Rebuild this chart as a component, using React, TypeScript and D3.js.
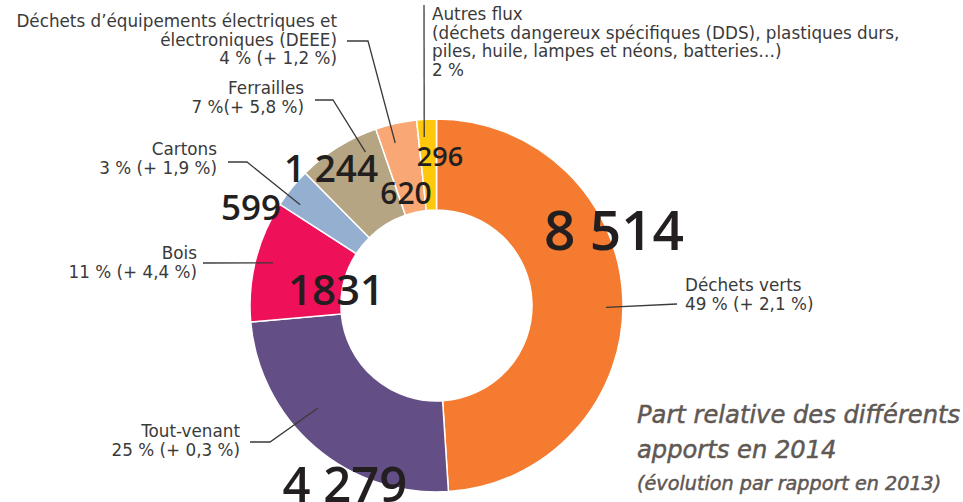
import React from "react";
import * as d3 from "d3";

const categories = ["Déchets verts", "Tout-venant", "Bois", "Cartons", "Ferrailles", "DEEE", "Autres flux"];
const values = [8514, 4279, 1831, 599, 1244, 620, 296];
const valueLabels = ["8 514", "4 279", "1831", "599", "1 244", "620", "296"];
const colors = ["#F47B30", "#634F85", "#EE1159", "#95AFD0", "#B5A583", "#F9A774", "#FFC80C"];
const labelLines = [
  ["Déchets verts", "49 % (+ 2,1 %)"],
  ["Tout-venant", "25 % (+ 0,3 %)"],
  ["Bois", "11 % (+ 4,4 %)"],
  ["Cartons", "3 % (+ 1,9 %)"],
  ["Ferrailles", "7 %(+ 5,8 %)"],
  ["Déchets d’équipements électriques et", "électroniques (DEEE)", "4 % (+ 1,2 %)"],
  ["Autres flux", "(déchets dangereux spécifiques (DDS), plastiques durs,", "piles, huile, lampes et néons, batteries…)", "2 %"],
];
const titleLines = ["Part relative des différents", "apports en 2014"];
const subtitle = "(évolution par rapport en 2013)";

// layout (annotation placement)
const W = 963, H = 502;
const CX = 436.5, CY = 305.5, R = 186.5, R0 = 95.5;
const numLayout = [
  { x: 614, y: 250, size: 55 },
  { x: 345, y: 502, size: 49 },
  { x: 336, y: 305, size: 42 },
  { x: 251, y: 220, size: 35 },
  { x: 331, y: 182, size: 37 },
  { x: 406, y: 204, size: 30 },
  { x: 440, y: 166, size: 27 },
];
// text anchor, x, first baseline, leader start/elbow, angle offset (deg) from slice mid, radius
const labLayout = [
  { anchor: "start", x: 685, y: 291, pts: [[677, 304]], dA: 2.5, r: 169.5 },
  { anchor: "end", x: 240, y: 437, pts: [[250, 442], [270, 442]], dA: 8.5, r: 156.7 },
  { anchor: "end", x: 197, y: 259, pts: [[203, 263]], dA: 0.7, r: 169 },
  { anchor: "end", x: 217, y: 155, pts: [[228, 162], [247, 162]], dA: -2.6, r: 169.5 },
  { anchor: "end", x: 304, y: 94, pts: [[315, 100], [333, 100]], dA: 7, r: 169 },
  { anchor: "end", x: 337, y: 27, pts: [[347, 41], [368, 41]], dA: -1.7, r: 167.7 },
  { anchor: "start", x: 432, y: 20, pts: [[424, 5]], dA: -1.1, r: 169 },
];
const LH = 18.7;
const FONT = "'Open Sans', 'Noto Sans', sans-serif";
const LFONT = "'DejaVu Sans', 'Open Sans', sans-serif";

export default function App() {
  const pie = d3.pie<number>().sort(null).value((d) => d).startAngle(0).endAngle(2 * Math.PI);
  const arcs = pie(values);
  const arc = d3.arc<d3.PieArcDatum<number>>().innerRadius(R0).outerRadius(R);
  const polar = (a: number, r: number) => [CX + r * Math.sin(a), CY - r * Math.cos(a)];
  const line = d3.line();

  return (
    <svg width={W} height={H} style={{ position: "absolute", left: 0, top: 0, background: "#fff" }}>
      <g transform={`translate(${CX},${CY})`}>
        {arcs.map((a, i) => (
          <path key={categories[i]} d={arc(a) || ""} fill={colors[i]} stroke="#fff" strokeWidth={1.5} />
        ))}
      </g>
      {arcs.map((a, i) => {
        const L = labLayout[i];
        const mid = (a.startAngle + a.endAngle) / 2 + (L.dA * Math.PI) / 180;
        const end = polar(mid, L.r) as [number, number];
        const pts = [...(L.pts as [number, number][]), end];
        return (
          <g key={"lab" + i}>
            <path d={line(pts) || ""} fill="none" stroke="#3a3a3a" strokeWidth={1.3} />
            <text
              x={L.x}
              y={L.y}
              textAnchor={L.anchor as any}
              fontFamily={LFONT}
              fontSize={16.8}
              fill="#3a3a3a"
            >
              {labelLines[i].map((t, j) => (
                <tspan key={j} x={L.x} y={L.y + j * LH}>
                  {t}
                </tspan>
              ))}
            </text>
          </g>
        );
      })}
      {valueLabels.map((v, i) => (
        <text
          key={"v" + i}
          x={numLayout[i].x}
          y={numLayout[i].y}
          textAnchor="middle"
          fontFamily={FONT}
          fontWeight={600}
          fontSize={numLayout[i].size}
          fill="#231F20"
        >
          {v}
        </text>
      ))}
      <text fontFamily={LFONT} fontStyle="italic" fill="#5F5853" stroke="#5F5853" strokeWidth={0.5}>
        {titleLines.map((t, j) => (
          <tspan key={j} x={637} y={423 + j * 35} fontSize={24.2}>
            {t}
          </tspan>
        ))}
        <tspan x={637} y={490} fontSize={19.2}>
          {subtitle}
        </tspan>
      </text>
    </svg>
  );
}
